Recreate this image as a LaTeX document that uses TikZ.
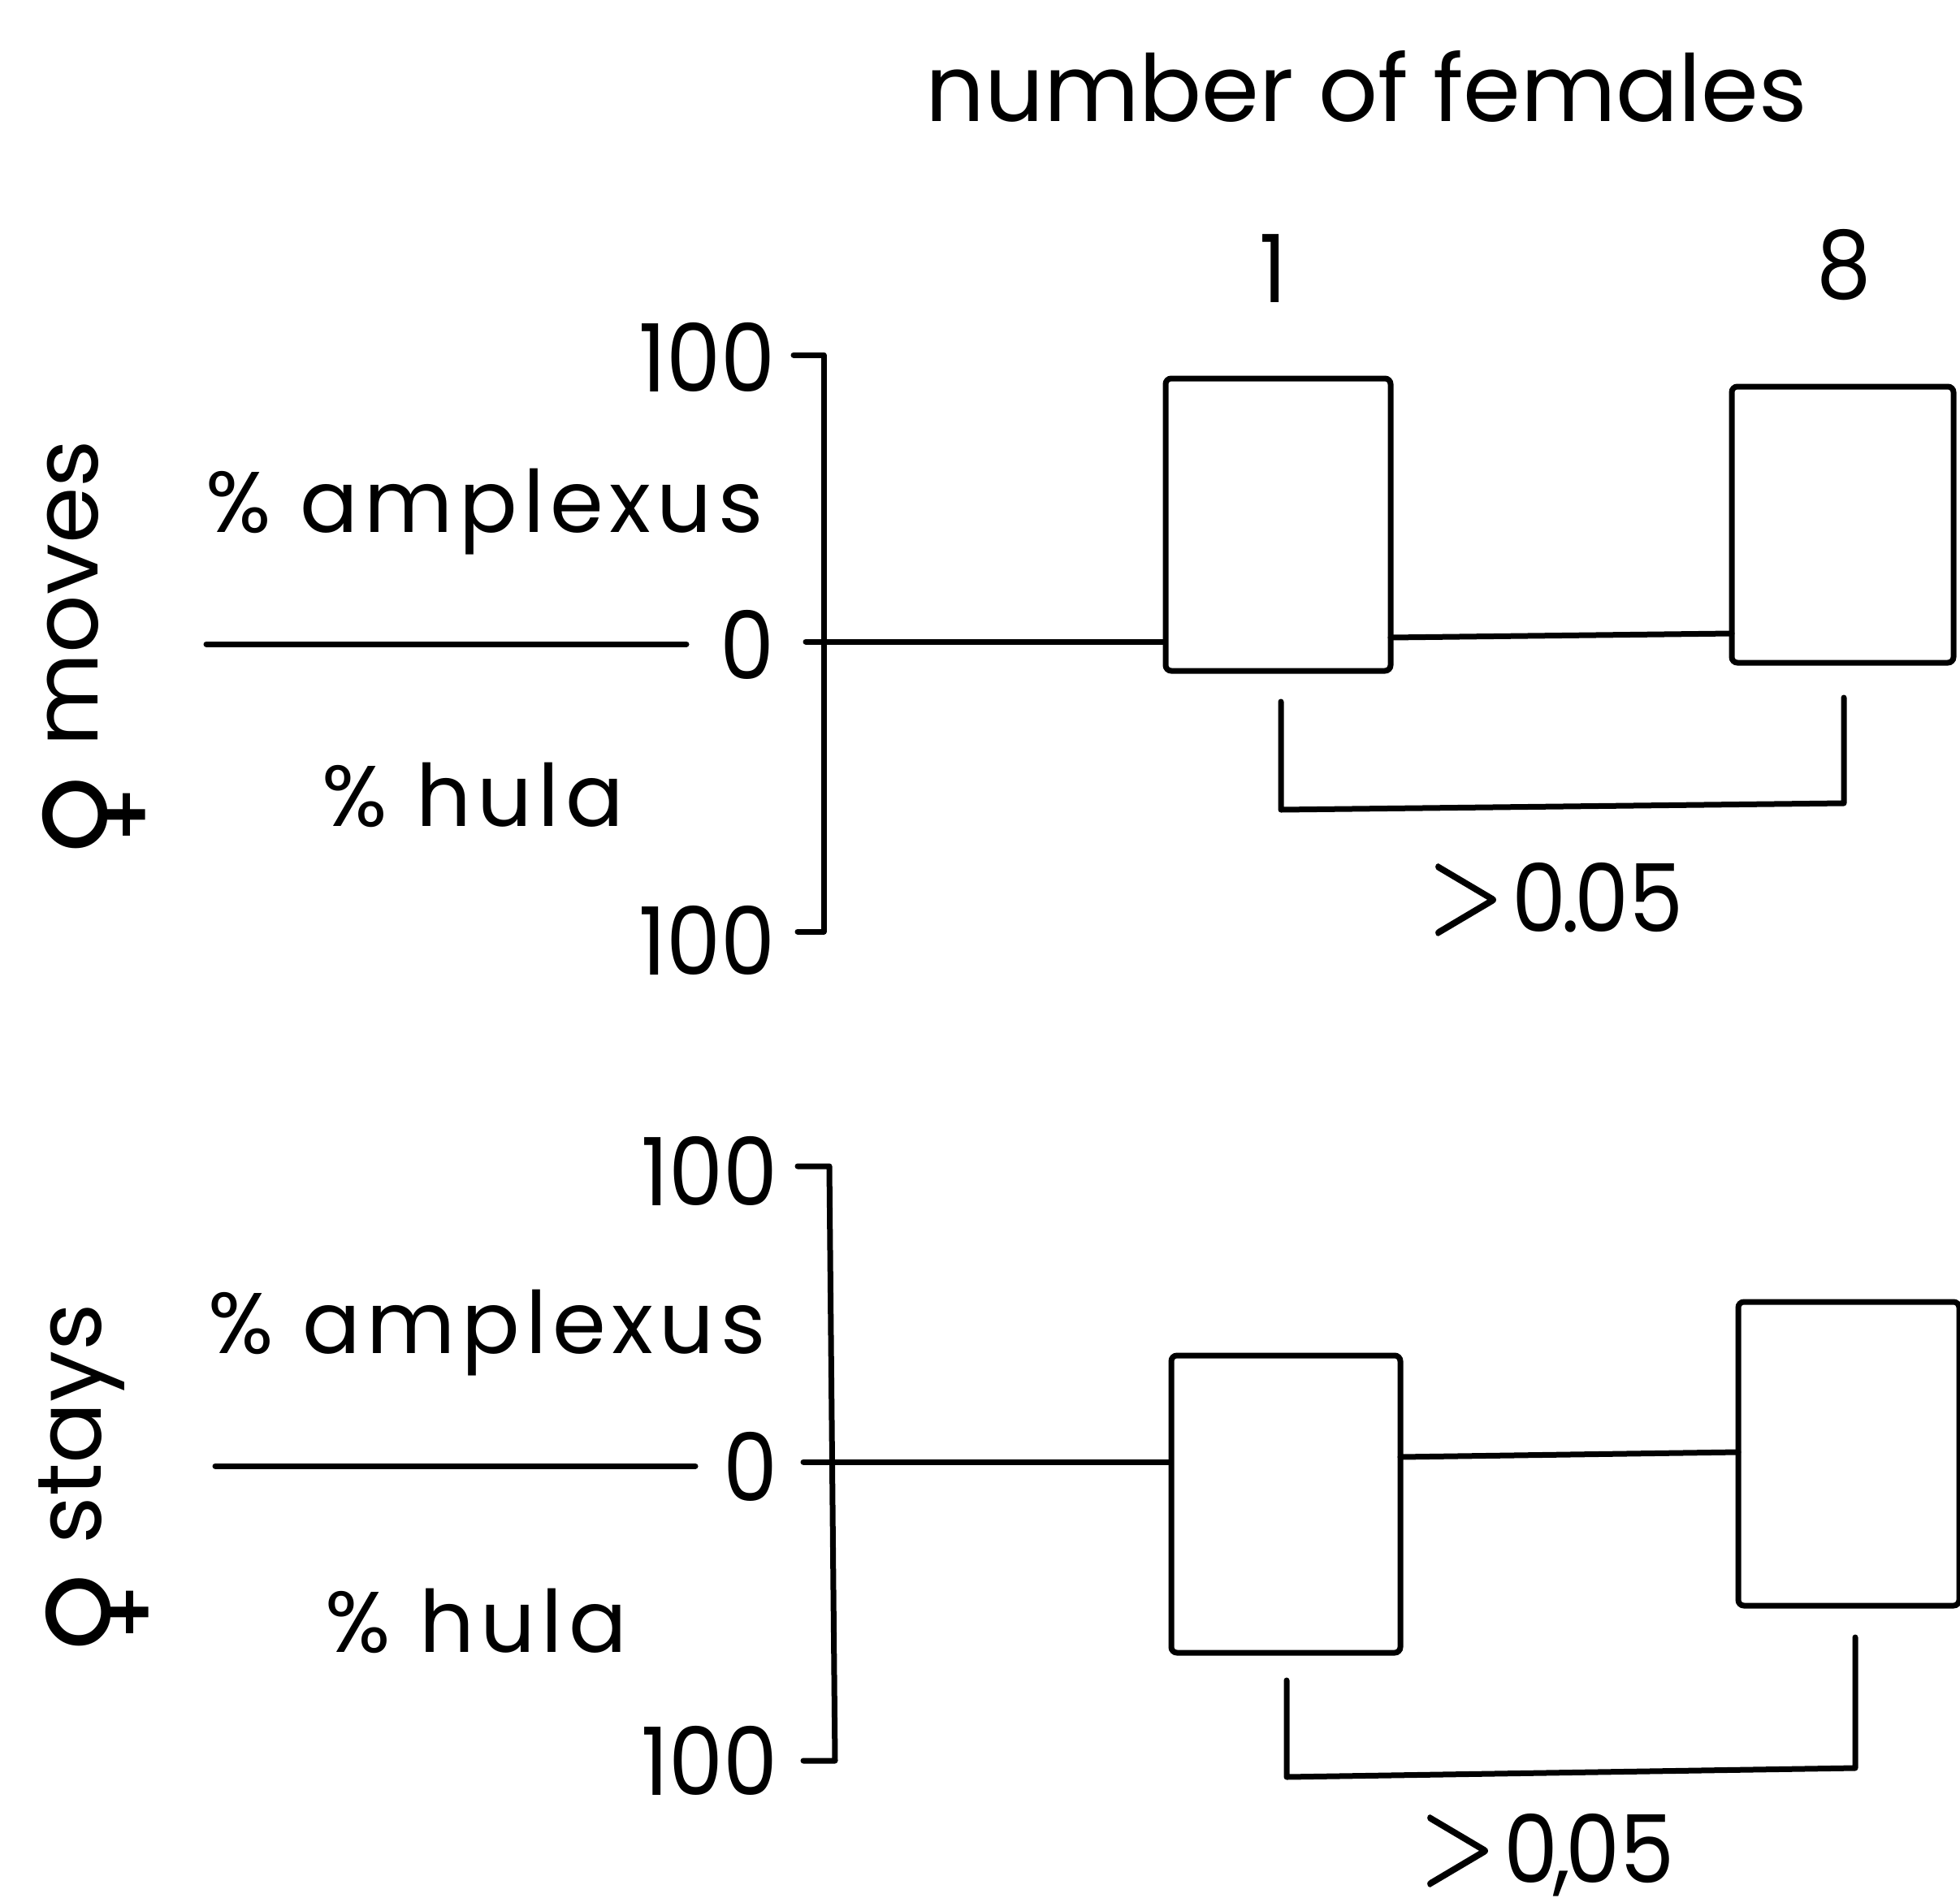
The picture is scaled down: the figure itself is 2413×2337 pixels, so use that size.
\documentclass[tikz,border=0pt]{standalone}
\usepackage{graphicx}
\usepackage{fontspec}
\setmainfont{Poppins}
\newfontfamily\widef[LetterSpace=7]{Poppins}
\newfontfamily\numf[FakeStretch=0.92]{Poppins}
\newfontfamily\symf{DejaVu Sans}
\newfontfamily\lmf[UprightFeatures={FakeBold=1.6}]{Latin Modern Roman}
\newcommand{\fem}{\raisebox{-40pt}{\symf\fontsize{148}{148}\selectfont ♀}}
\newcommand{\bigGt}{\scalebox{1.05}[1.35]{\lmf >}\hspace{10pt}}
\newcommand{\tightdot}[1]{\hspace{-6pt}#1\hspace{-6pt}}
\begin{document}
\begin{tikzpicture}[x=1pt,y=-1pt,
  ln/.style={line width=7pt, line cap=round, line join=round},
  bar/.style={draw, line width=7pt, rounded corners=7pt, inner sep=0pt},
  lbl/.style={inner sep=0pt, font=\widef\fontsize{106}{110}\selectfont},
  ttl/.style={inner sep=0pt, font=\fontsize{114}{116}\selectfont},
  num/.style={inner sep=0pt, font=\numf\fontsize{116}{120}\selectfont},
  side/.style={inner sep=0pt, rotate=90, anchor=base west, font=\fontsize{112}{114}\selectfont}]
\useasboundingbox (0,0) rectangle (2413,2337);

% heading
\node[ttl, anchor=base west] (title) at (1139,149) {number of females};
\node[num, anchor=base] (n1) at (1568,372) {1};
\node[num, anchor=base] (n8) at (2270,367) {8};

% ---------- top panel ----------
\node[side] (lab1) at (120,1058) {\fem\hspace{30pt}moves};
\node[lbl, anchor=base west] (amp1) at (253,655) {\% amplexus};
\node[lbl, anchor=base west] (hul1) at (396,1017) {\% hula};
\node[num, anchor=base east] (t1top) at (955,482) {100};
\node[num, anchor=base east] (t1bot) at (955,1200) {100};
\node[num, anchor=base east] (t1zero) at (954,836) {0};

\coordinate (a1tt) at (977,437);
\coordinate (a1t) at (1014,437);
\coordinate (a1b) at (1014,1147);
\coordinate (a1bt) at (982,1147);
\draw[ln] (a1tt) -- (a1t) -- (a1b) -- (a1bt);

\coordinate (z1a) at (254,793);
\coordinate (z1b) at (845,793);
\draw[ln] (z1a) -- (z1b);

\node[bar, minimum width=277pt, minimum height=360pt] (b11) at (1573.5,646) {};
\node[bar, minimum width=273pt, minimum height=340pt] (b12) at (2268.5,646) {};

\coordinate (z1c) at (992,790);
\draw[ln] (z1c) -- (b11.west |- z1c);
\coordinate (z1d) at (1712,785);
\coordinate (z1e) at (2132,780);
\draw[ln] (z1d) -- (z1e);

\coordinate (k1a) at (1577,864);
\coordinate (k1b) at (1577,997);
\coordinate (k1c) at (2270,989);
\coordinate (k1d) at (2270,859);
\draw[ln] (k1a) -- (k1b) -- (k1c) -- (k1d);
\node[num, anchor=base west] (p1) at (1758,1147) {\bigGt0\tightdot{.}05};

% ---------- bottom panel ----------
\node[side] (lab2) at (124,2040) {\fem\hspace{30pt}stays};
\node[lbl, anchor=base west] (amp2) at (256,1666) {\% amplexus};
\node[lbl, anchor=base west] (hul2) at (400,2034) {\% hula};
\node[num, anchor=base east] (t2top) at (958,1484) {100};
\node[num, anchor=base east] (t2bot) at (958,2210) {100};
\node[num, anchor=base east] (t2zero) at (958,1848) {0};

\coordinate (a2tt) at (982,1436);
\coordinate (a2t) at (1021,1436);
\coordinate (a2b) at (1028,2168);
\coordinate (a2bt) at (989,2168);
\draw[ln] (a2tt) -- (a2t) -- (a2b) -- (a2bt);

\coordinate (z2a) at (265,1805);
\coordinate (z2b) at (856,1805);
\draw[ln] (z2a) -- (z2b);

\node[bar, minimum width=282pt, minimum height=366pt] (b21) at (1583,1852) {};
\node[bar, minimum width=272pt, minimum height=374pt] (b22) at (2276,1790) {};

\coordinate (z2c) at (989,1800);
\draw[ln] (z2c) -- (b21.west |- z2c);
\coordinate (z2d) at (1724,1794);
\coordinate (z2e) at (2140,1788);
\draw[ln] (z2d) -- (z2e);

\coordinate (k2a) at (1584,2069);
\coordinate (k2b) at (1584,2188);
\coordinate (k2c) at (2284,2177);
\coordinate (k2d) at (2284,2016);
\draw[ln] (k2a) -- (k2b) -- (k2c) -- (k2d);
\node[num, anchor=base west] (p2) at (1748,2318) {\bigGt0\tightdot{,}05};
\end{tikzpicture}
\end{document}
